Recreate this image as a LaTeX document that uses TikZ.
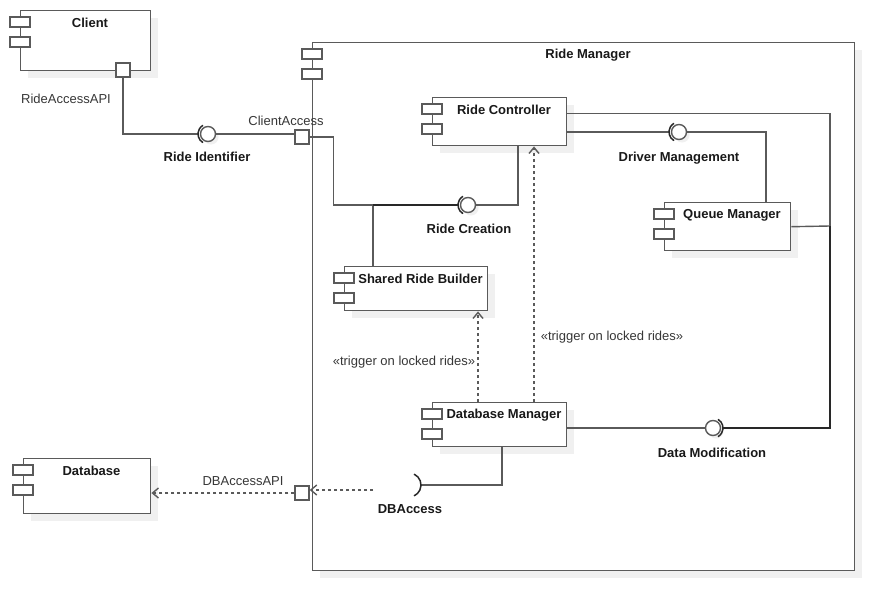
\documentclass[tikz,border=0pt]{standalone}
\usepackage{fontspec}
\setmainfont{Liberation Sans}
\usetikzlibrary{arrows.meta,shadows}
\definecolor{lc}{RGB}{90,90,90}
\definecolor{dlc}{RGB}{40,40,40}
\definecolor{shc}{RGB}{240,240,240}
\definecolor{tc}{RGB}{25,25,25}
\definecolor{lbc}{RGB}{55,55,55}
\tikzset{
 compbox/.style={draw=lc, line width=1.4pt, fill=white, inner sep=0pt,
   drop shadow={shadow xshift=7pt, shadow yshift=-7pt, fill=shc, opacity=1}},
 iconbox/.style={draw=lc, line width=1.4pt, fill=white},
 ctitle/.style={font=\bfseries\fontsize{13}{15}\selectfont, text=tc, inner sep=0pt},
 lbl/.style={font=\fontsize{13}{15}\selectfont, text=lbc, inner sep=0pt},
 port/.style={draw=lc, line width=1.4pt, fill=white, minimum size=14pt, inner sep=0pt},
 ball/.style={circle, draw=lc, line width=1.4pt, fill=white, minimum size=15pt, inner sep=0pt,
   drop shadow={shadow xshift=3pt, shadow yshift=-3pt, fill=shc, opacity=1}},
 conn/.style={draw=lc, line width=1.4pt},
 sock/.style={draw=dlc, line width=1.5pt},
 dep/.style={draw=lc, line width=1.4pt, dash pattern=on 3pt off 3pt,
   -{Straight Barb[length=6pt,width=10pt]}},
}
\newcommand{\umlcomp}[6]{%
 \node[compbox, anchor=north west, minimum width={(#4)-(#2)}, minimum height={(#5)-(#3)}] (#1) at (#2,#3) {};
 \draw[iconbox] ({#2-10},{#3+7}) rectangle ({#2+10},{#3+17});
 \draw[iconbox] ({#2-10},{#3+27}) rectangle ({#2+10},{#3+37});
 \node[ctitle] (#1t) at ({(#2+10+#4)/2},{#3+13}) {#6};
}
\begin{document}
\begin{tikzpicture}[x=1pt,y=-1pt]
\useasboundingbox[fill=white] (0,0) rectangle (894,610);
% components
\umlcomp{rm}{312}{42}{854}{570}{Ride Manager}
\umlcomp{client}{20}{10}{150}{70}{Client}
\umlcomp{db}{23}{458}{150}{513}{Database}
\umlcomp{rc}{432}{97}{566}{145}{Ride Controller}
\umlcomp{qm}{664}{202}{790}{250}{Queue Manager}
\umlcomp{srb}{344}{266}{487}{310}{Shared Ride Builder}
\umlcomp{dbm}{432}{402}{566}{446}{Database Manager}
% interface balls
\node[ball] (riB) at (208,134) {};
\node[ball] (rcB) at (468,205) {};
\node[ball] (dmB) at (679,132) {};
\node[ball] (mdB) at (713,428) {};
% junctions
\coordinate (jS) at (373,205);
\coordinate (jR) at (830,226);
\coordinate (dbaC) at (409,485);
\coordinate (dS) at (373,490);
% ports (positions)
\path (123,70) coordinate (pRAc) (302,137) coordinate (pCAc) (302,493) coordinate (pDBc);
\node[port] (pRA) at (pRAc) {};
\node[port] (pCA) at (pCAc) {};
\node[port] (pDB) at (pDBc) {};
% connectors
\draw[conn] (pRA.south) |- ([xshift=-10pt]riB.center);
\draw[conn] (riB.east) -- (riB.east -| pCA.west);
\draw[conn] (pCA.east) -- ++(24,0) |- ([xshift=-10pt]rcB.center);
\draw[conn] (jS) -- (jS |- srb.north);
\draw[sock] (jS) -- ([xshift=-10pt]rcB.center);
\draw[conn] (rcB.east) -| ([xshift=86pt]rc.south west);
\draw[conn] (rc.east |- dmB) -- ([xshift=-10pt]dmB.center);
\draw[conn] (dmB.east) -| ([xshift=102pt]qm.north west);
\draw[conn] ([yshift=8pt]rc.east) -| (jR);
\draw[conn] (qm.east) -- (jR);
\draw[sock, line width=1.8pt] (jR) |- ([xshift=10pt]mdB.center);
\draw[conn] (dbm.east |- mdB) -- (mdB.west);
\draw[conn] ([xshift=12pt]dbaC) -| ([xshift=70pt]dbm.south west);
% sockets
\draw[sock] (riB.center) ++(120:10) arc[start angle=120, end angle=240, radius=10];
\draw[sock] (rcB.center) ++(120:10) arc[start angle=120, end angle=240, radius=10];
\draw[sock] (dmB.center) ++(120:10) arc[start angle=120, end angle=240, radius=10];
\draw[sock] (mdB.center) ++(-60:10) arc[start angle=-60, end angle=60, radius=10];
\draw[sock] (dbaC) ++(-65:12) arc[start angle=-65, end angle=65, radius=12];
% dependencies
\draw[dep] ([xshift=46pt]dbm.north west) -- ([xshift=134pt]srb.south west);
\draw[dep] ([xshift=102pt]dbm.north west) -- ([xshift=102pt]rc.south west);
\draw[dep] (dS) -- (dS -| pDB.east);
\draw[dep] (pDB.west) -- (pDB.west -| db.east);
% ports on top
\node[port] at (pRAc) {};
\node[port] at (pCAc) {};
\node[port] at (pDBc) {};
% labels
\node[lbl] (lRA) at (66,99) {RideAccessAPI};
\node[lbl] (lCA) at (286,121) {ClientAccess};
\node[ctitle] (lRI) at (207,157) {Ride Identifier};
\node[ctitle] (lRCr) at (469,229) {Ride Creation};
\node[ctitle] (lDM) at (679,158) {Driver Management};
\node[ctitle] (lDMo) at (712,453) {Data Modification};
\node[ctitle] (lDBA) at (410,509) {DBAccess};
\node[lbl] (lDBAPI) at (243,481) {DBAccessAPI};
\node[lbl] (lT1) at (404,362) {«trigger on locked rides»};
\node[lbl] (lT2) at (612,337) {«trigger on locked rides»};
\end{tikzpicture}
\end{document}
